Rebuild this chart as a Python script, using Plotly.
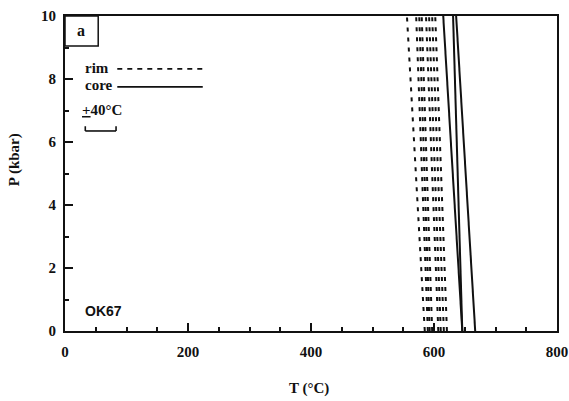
import plotly.graph_objects as go

# Isopleths: temperature (°C) at P = 10 kbar (top) and P = 0 kbar (bottom)
P_ends = [10, 0]
rim_T_top = [556, 571, 576, 580, 587, 592, 597, 602]
rim_T_bottom = [585, 590, 593, 597, 607, 611, 616, 621]
core_T_top = [615, 631, 636]
core_T_bottom = [646, 646, 667]

x_ticks = [0, 200, 400, 600, 800]
y_ticks = [0, 2, 4, 6, 8, 10]

SERIF = "Liberation Serif"
BLACK = "#111111"

fig = go.Figure()

for t0, t1 in zip(rim_T_top, rim_T_bottom):
    fig.add_trace(go.Scatter(
        x=[t1, t0], y=P_ends[::-1], mode="lines",
        line=dict(color=BLACK, width=2, dash="4px,6px"),
        showlegend=False, hoverinfo="skip"))

for t0, t1 in zip(core_T_top, core_T_bottom):
    fig.add_trace(go.Scatter(
        x=[t1, t0], y=P_ends[::-1], mode="lines",
        line=dict(color=BLACK, width=2),
        showlegend=False, hoverinfo="skip"))

# Hand-drawn key: rim / core line samples and the ±40°C scale bar
fig.add_trace(go.Scatter(x=[85, 224], y=[8.32, 8.32], mode="lines",
                         line=dict(color=BLACK, width=1.6, dash="5px,5px"),
                         showlegend=False, hoverinfo="skip"))
fig.add_trace(go.Scatter(x=[85, 224], y=[7.75, 7.75], mode="lines",
                         line=dict(color=BLACK, width=1.8),
                         showlegend=False, hoverinfo="skip"))
fig.add_shape(type="line", x0=33, x1=83, y0=6.35, y1=6.35,
              line=dict(color=BLACK, width=1.6))
for xe in (33, 83):
    fig.add_shape(type="line", x0=xe, x1=xe, y0=6.35, y1=6.5,
                  line=dict(color=BLACK, width=1.6))

txt = dict(family=SERIF, size=15, color=BLACK)
fig.add_annotation(x=29, y=8.34, text="<b>rim</b>", showarrow=False,
                   xanchor="left", yanchor="middle", font=txt)
fig.add_annotation(x=29, y=7.80, text="<b>core</b>", showarrow=False,
                   xanchor="left", yanchor="middle", font=txt)
fig.add_annotation(x=24, y=7.02, text="<b><u>+</u>40°C</b>", showarrow=False,
                   xanchor="left", yanchor="middle", font=txt)

# Panel label box
fig.add_shape(type="rect", x0=0, x1=54, y0=9.05, y1=10,
              line=dict(color=BLACK, width=1.5), fillcolor="white")
fig.add_annotation(x=26, y=9.53, text="<b>a</b>", showarrow=False,
                   xanchor="center", yanchor="middle",
                   font=dict(family=SERIF, size=16, color=BLACK))

# Sample name
fig.add_annotation(x=29, y=0.63, text="<b>OK67</b>", showarrow=False,
                   xanchor="left", yanchor="middle",
                   font=dict(family="Liberation Sans", size=14, color=BLACK))

# Axis titles
fig.add_annotation(xref="paper", yref="paper", x=0.495, y=-0.182,
                   text="<b>T (°C)</b>", showarrow=False,
                   xanchor="center", yanchor="middle", font=txt)
fig.add_annotation(xref="paper", yref="paper", x=-0.102, y=0.545,
                   text="<b>P (kbar)</b>", showarrow=False, textangle=-90,
                   xanchor="center", yanchor="middle", font=txt)

axis_common = dict(
    showgrid=False, zeroline=False, showline=True, mirror=True,
    linecolor=BLACK, linewidth=2, automargin=False,
    ticks="inside", ticklen=8, tickwidth=2, tickcolor=BLACK,
    tickfont=dict(family=SERIF, size=15, color=BLACK),
)

fig.update_xaxes(range=[0, 800], tickvals=x_ticks,
                 ticktext=[f"<b>{v}</b>" for v in x_ticks],
                 minor=dict(dtick=50, ticks="inside", ticklen=4,
                            tickwidth=1.5, tickcolor=BLACK),
                 ticklabelstandoff=6, **axis_common)
fig.update_yaxes(range=[0, 10], tickvals=y_ticks,
                 ticktext=[f"<b>{v}</b>" for v in y_ticks],
                 minor=dict(dtick=1, ticks="inside", ticklen=4,
                            tickwidth=1.5, tickcolor=BLACK),
                 ticklabelstandoff=4, **axis_common)

fig.update_layout(
    width=569, height=401,
    margin=dict(l=65, r=12, t=16, b=70),
    plot_bgcolor="white", paper_bgcolor="white",
    showlegend=False,
)

fig.write_html("out.html")
